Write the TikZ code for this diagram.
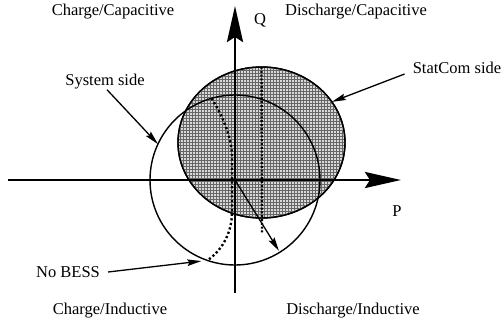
\documentclass[tikz,border=0pt]{standalone}
\usepackage{fontspec}
\setmainfont{Liberation Serif}
\usetikzlibrary{arrows.meta,shapes.geometric,patterns}

\begin{document}
\begin{tikzpicture}[x=1pt, y=-1pt,
  lbl/.style={font=\fontsize{16.5}{19}\selectfont, inner sep=0pt},
  axis/.style={line width=2.8pt, -{Stealth[length=36pt,width=16pt,inset=5pt]}},
  ptr/.style={line width=1.3pt, -{Stealth[length=14pt,width=6.5pt,inset=2pt]}},
  locus/.style={line width=2.4pt, dash pattern=on 2.2pt off 2.4pt},
  bound/.style={draw, line width=1.4pt, inner sep=0pt, outer sep=0pt}]
  \useasboundingbox (0,0) rectangle (504,322);
  \coordinate (O) at (235,180);
  % capability regions
  \node[bound, ellipse, fill=gray!30, minimum width=167pt, minimum height=151pt] (stat) at (261.5,142.5) {};
  \path[pattern=grid, pattern color=black!60] (stat.center) ellipse (82.5 and 74.5);
  \draw[line width=1.4pt] (stat.center) ellipse (83.5 and 75.5);
  \node[bound, circle, minimum size=170pt] (sys) at (O) {};
  % loci
  \draw[locus] (sys.106) .. controls (222,115) and (231,135) .. (232,155) -- (232,212)
    .. controls (232,235) and (220,252) .. (sys.251);
  \coordinate (dv) at (262,233);
  \draw[line width=2.4pt, dash pattern=on 2pt off 1.8pt] (stat.north) -- (dv);
  % axes
  \coordinate (pw) at (8,180);
  \coordinate (pe) at (401,180);
  \coordinate (qs) at (235,293);
  \coordinate (qn) at (235,6);
  \draw[axis] (pw) -- (pe);
  \draw[axis] (qs) -- (qn);
  \coordinate (pq) at (279,251);
  \draw[ptr] (O) -- (pq);
  % labels
  \node[lbl] (cc) at (113,12) {Charge/Capacitive};
  \node[lbl] (dc) at (356,12) {Discharge/Capacitive};
  \node[lbl] (ci) at (110,311) {Charge/Inductive};
  \node[lbl] (di) at (353,311) {Discharge/Inductive};
  \node[lbl] (Q) at (260,20) {Q};
  \node[lbl] (P) at (397,211) {P};
  \node[lbl] (syslbl) at (105,82) {System side};
  \node[lbl] (statlbl) at (457,68) {StatCom side};
  \node[lbl] (nobess) at (68,272) {No BESS};
  \draw[ptr] ([xshift=2pt]syslbl.south) -- (sys.155);
  \draw[ptr] ([xshift=-8pt]statlbl.south west) -- (stat.30);
  \draw[ptr, shorten >=6pt] ([xshift=8pt]nobess.east) -- (sys.251);
\end{tikzpicture}
\end{document}
